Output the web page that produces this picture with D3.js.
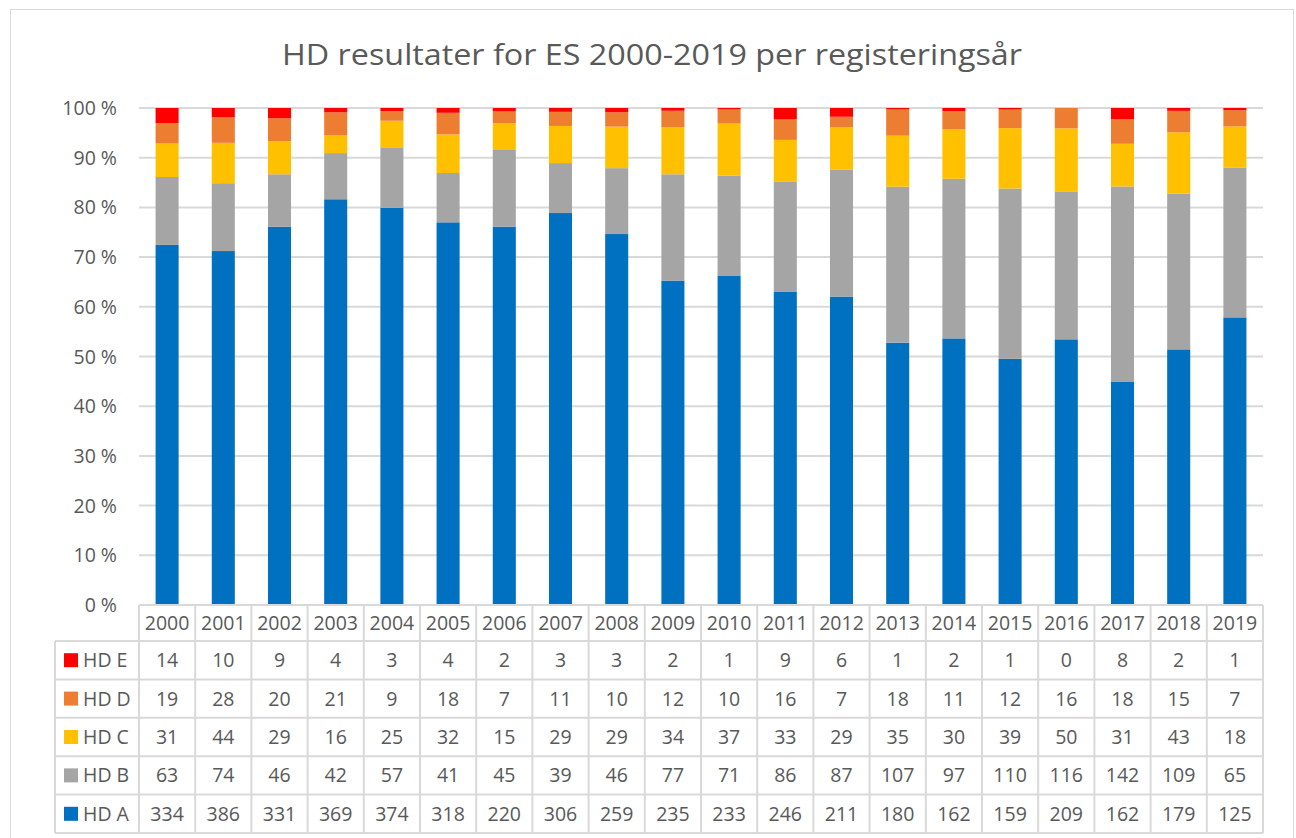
<!DOCTYPE html>
<html>
<head>
<meta charset="utf-8">
<script src="https://cdn.jsdelivr.net/npm/d3@7"></script>
<style>
  body { margin: 0; background: #fff; }
  text { font-family: "Open Sans", "Liberation Sans", sans-serif; fill: #595959; }
</style>
</head>
<body>
<div id="chart"></div>
<script>
const years = ["2000","2001","2002","2003","2004","2005","2006","2007","2008","2009","2010","2011","2012","2013","2014","2015","2016","2017","2018","2019"]
const hdA = [334,386,331,369,374,318,220,306,259,235,233,246,211,180,162,159,209,162,179,125]
const hdB = [63,74,46,42,57,41,45,39,46,77,71,86,87,107,97,110,116,142,109,65]
const hdC = [31,44,29,16,25,32,15,29,29,34,37,33,29,35,30,39,50,31,43,18]
const hdD = [19,28,20,21,9,18,7,11,10,12,10,16,7,18,11,12,16,18,15,7]
const hdE = [14,10,9,4,3,4,2,3,3,2,1,9,6,1,2,1,0,8,2,1]
const seriesNames = ["HD A", "HD B", "HD C", "HD D", "HD E"]
const seriesColors = ["#0070C0", "#A5A5A5", "#FFC000", "#ED7D31", "#FF0000"]
const yTicks = [0, 0.1, 0.2, 0.3, 0.4, 0.5, 0.6, 0.7, 0.8, 0.9, 1]
const title = "HD resultater for ES 2000-2019 per registeringsår"

const W = 1296, H = 838
const FS = 19.5
const values = [hdA, hdB, hdC, hdD, hdE]
const rows = years.map((y, i) => {
  const r = { year: y }
  seriesNames.forEach((s, k) => { r[s] = values[k][i] })
  return r
})

const svg = d3.select("#chart").append("svg")
  .attr("width", W).attr("height", H)

// outer chart border
svg.append("rect")
  .attr("x", 10.5).attr("y", 9.5)
  .attr("width", 1283).attr("height", 840)
  .attr("fill", "none").attr("stroke", "#d9d9d9").attr("stroke-width", 1)

const x = d3.scaleBand().domain(years).range([139, 1263]).padding(0)
const y = d3.scaleLinear().domain([0, 1]).range([605, 108])

// title
svg.append("text")
  .attr("x", 652).attr("y", 65)
  .attr("text-anchor", "middle")
  .attr("font-size", 30)
  .attr("textLength", 740).attr("lengthAdjust", "spacingAndGlyphs")
  .text(title)

// gridlines
svg.append("g").selectAll("line")
  .data(yTicks.filter(t => t > 0))
  .join("line")
  .attr("x1", 139).attr("x2", 1263)
  .attr("y1", d => y(d)).attr("y2", d => y(d))
  .attr("stroke", "#d9d9d9").attr("stroke-width", 2)

// y tick labels
svg.append("g").selectAll("text")
  .data(yTicks)
  .join("text")
  .attr("x", 117).attr("y", d => y(d))
  .attr("dy", "0.36em")
  .attr("text-anchor", "end")
  .attr("font-size", FS)
  .text(d => `${Math.round(d * 100)} %`)

// stacked 100% bars
const stack = d3.stack().keys(seriesNames).offset(d3.stackOffsetExpand)
const stacked = stack(rows)
const barW = x.bandwidth() * 0.41

svg.append("g").selectAll("g")
  .data(stacked)
  .join("g")
  .attr("fill", (d, i) => seriesColors[i])
  .selectAll("rect")
  .data(d => d)
  .join("rect")
  .attr("x", d => x(d.data.year) + (x.bandwidth() - barW) / 2)
  .attr("width", barW)
  .attr("y", d => y(d[1]))
  .attr("height", d => Math.max(0, y(d[0]) - y(d[1])))

// data table
const tableTop = 605, headH = 36, rowH = 38.4
const legendLeft = 55
const tableRows = seriesNames.slice().reverse() // HD E at top
const rowY = i => tableTop + headH + i * rowH
const tableBottom = rowY(tableRows.length)
const grid = svg.append("g").attr("stroke", "#d9d9d9").attr("stroke-width", 2)

// horizontal lines
grid.append("line").attr("x1", 139).attr("x2", 1263).attr("y1", tableTop).attr("y2", tableTop)
d3.range(tableRows.length + 1).forEach(i => {
  grid.append("line").attr("x1", legendLeft).attr("x2", 1263)
    .attr("y1", rowY(i)).attr("y2", rowY(i))
})
// vertical lines
grid.append("line").attr("x1", legendLeft).attr("x2", legendLeft)
  .attr("y1", rowY(0)).attr("y2", tableBottom)
years.forEach(yr => {
  grid.append("line").attr("x1", x(yr)).attr("x2", x(yr))
    .attr("y1", tableTop).attr("y2", tableBottom)
})
grid.append("line").attr("x1", 1263).attr("x2", 1263)
  .attr("y1", tableTop).attr("y2", tableBottom)

// header years
svg.append("g").selectAll("text")
  .data(years)
  .join("text")
  .attr("x", d => x(d) + x.bandwidth() / 2)
  .attr("y", tableTop + headH / 2)
  .attr("dy", "0.36em")
  .attr("text-anchor", "middle")
  .attr("font-size", FS)
  .text(d => d)

// legend cells + values
tableRows.forEach((name, i) => {
  const k = seriesNames.indexOf(name)
  const cy = rowY(i) + rowH / 2
  svg.append("rect")
    .attr("x", 64).attr("y", cy - 7)
    .attr("width", 14).attr("height", 14)
    .attr("fill", seriesColors[k])
  svg.append("text")
    .attr("x", 83).attr("y", cy).attr("dy", "0.36em")
    .attr("font-size", FS)
    .text(name)
  svg.append("g").selectAll("text")
    .data(values[k])
    .join("text")
    .attr("x", (d, j) => x(years[j]) + x.bandwidth() / 2)
    .attr("y", cy).attr("dy", "0.36em")
    .attr("text-anchor", "middle")
    .attr("font-size", FS)
    .text(d => d)
})
</script>
</body>
</html>
